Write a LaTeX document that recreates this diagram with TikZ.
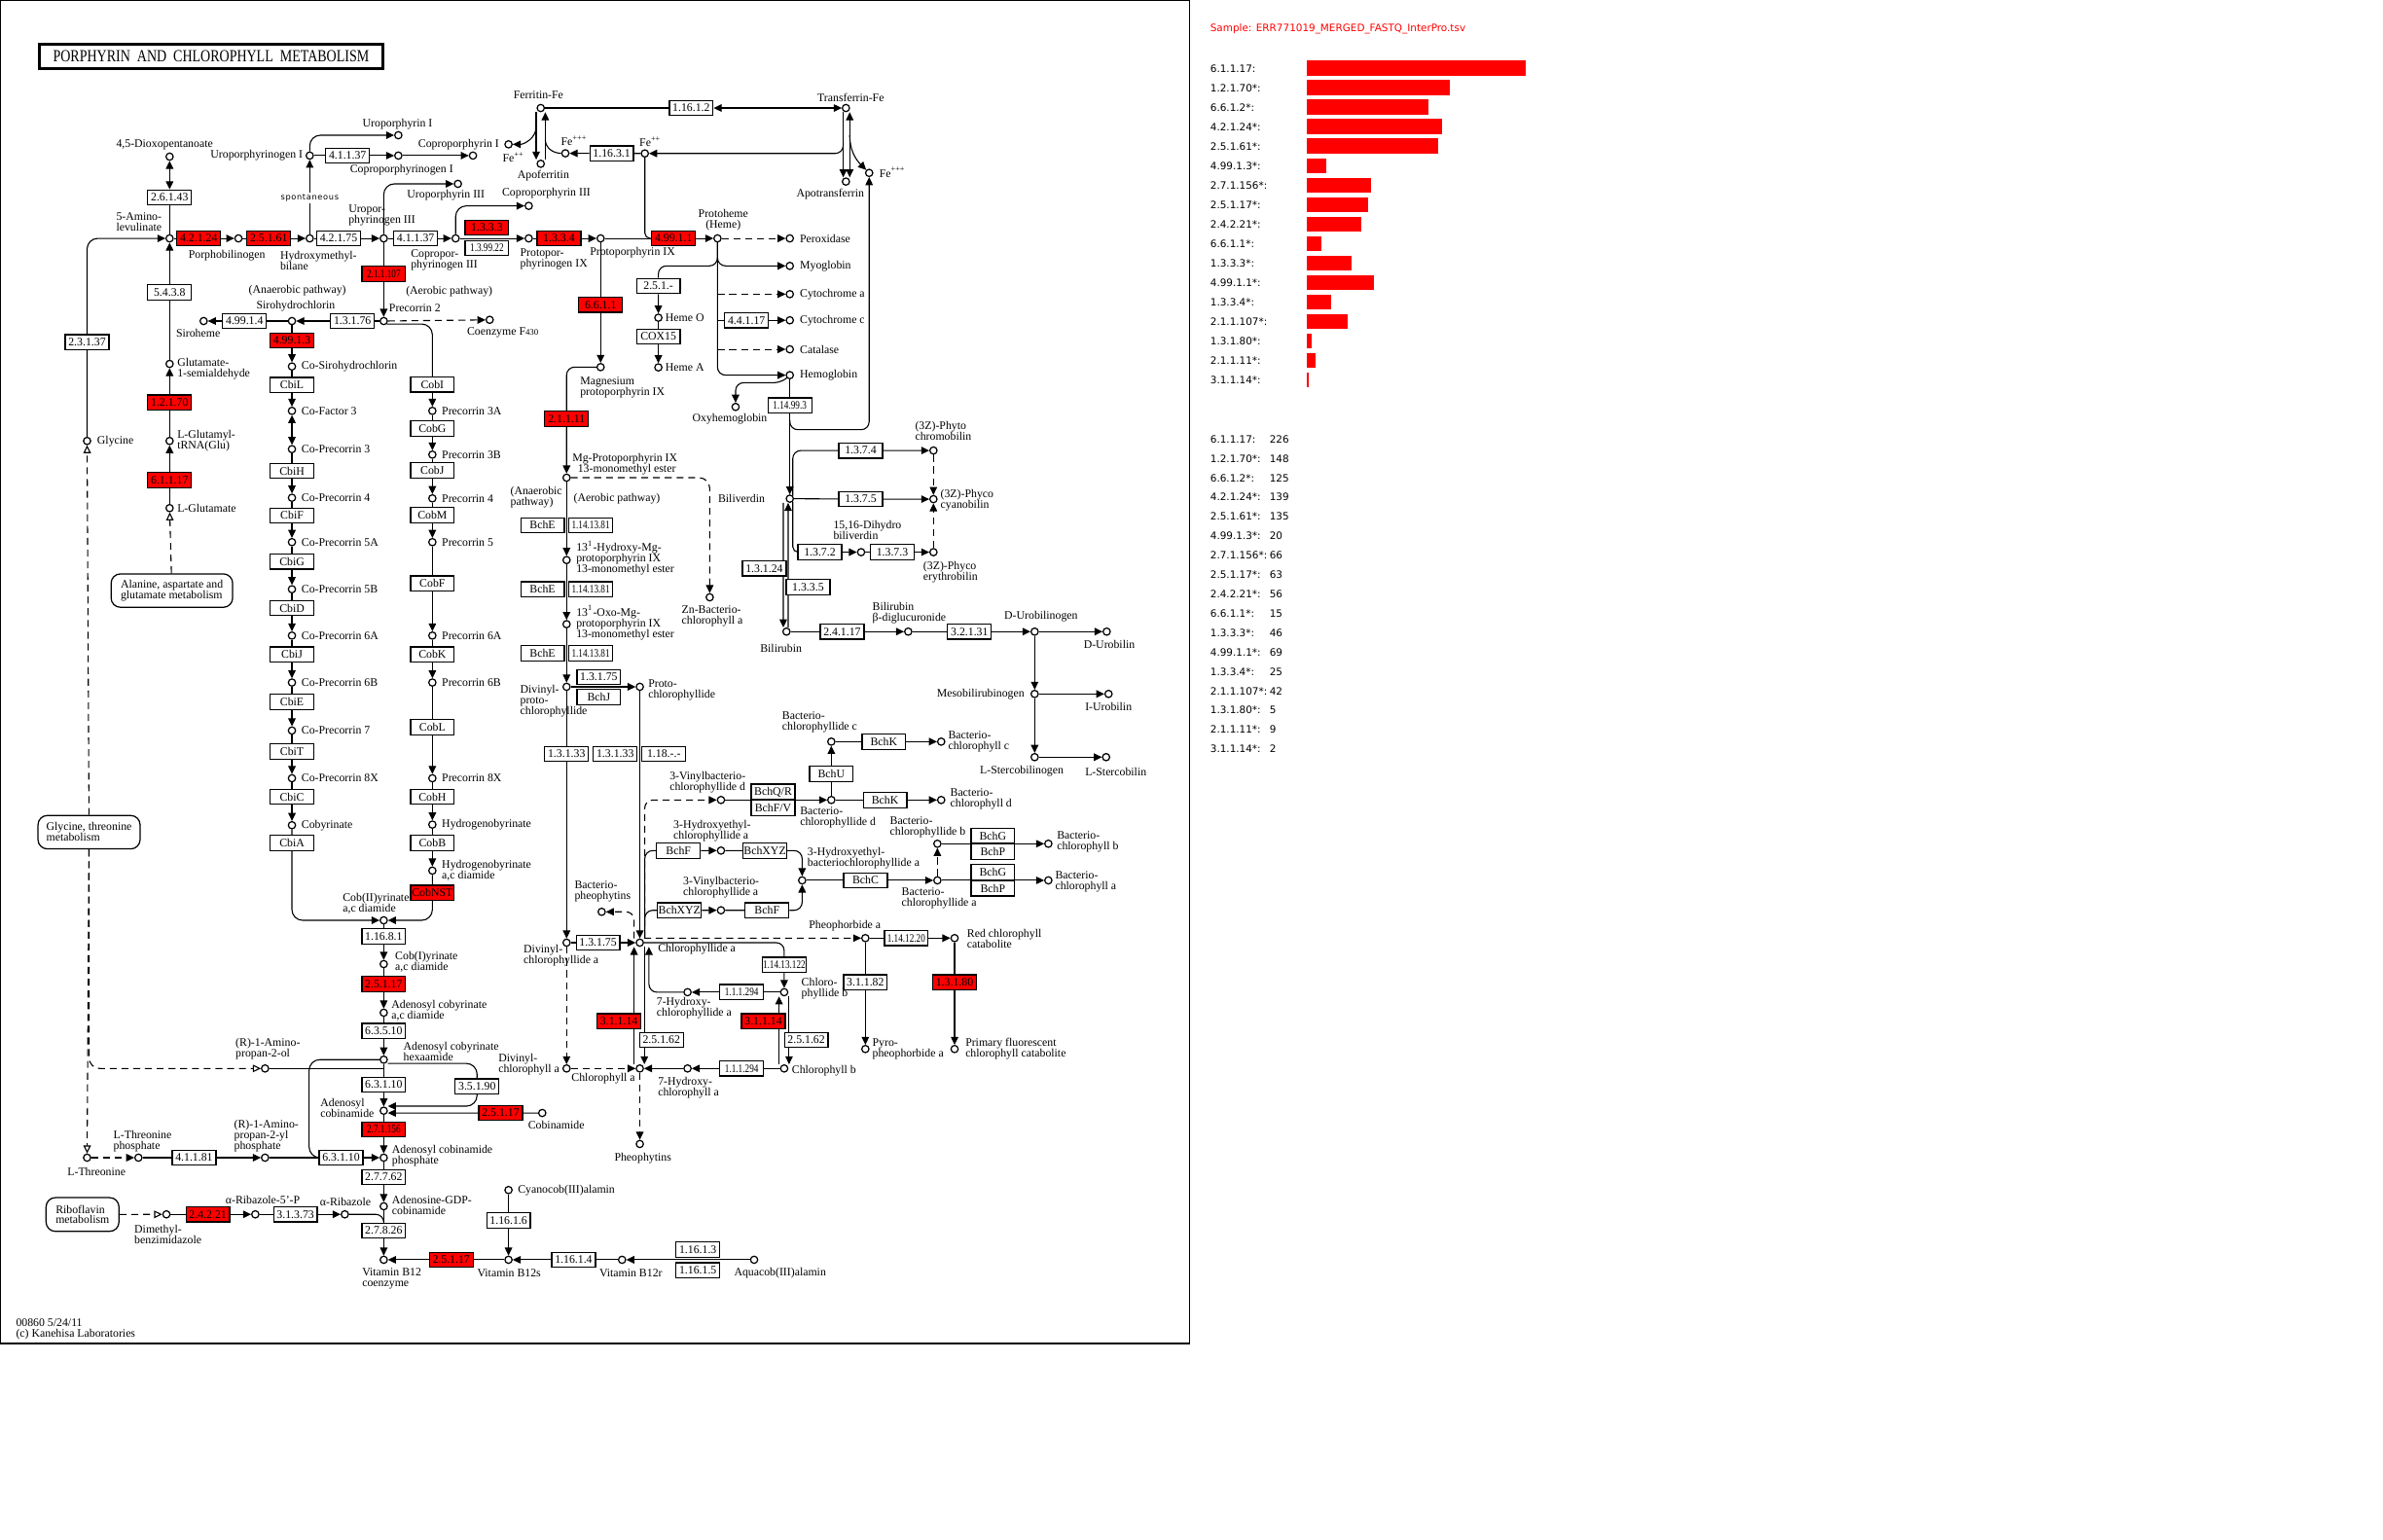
\documentclass[tikz,border=0pt]{standalone}
\usepackage{fontspec}
\setmainfont{Liberation Serif}
\newfontfamily\condfont[FakeStretch=0.78]{Liberation Serif}
\newfontfamily\legfont{DejaVu Sans}
\newfontfamily\spontfont[LetterSpace=8]{DejaVu Sans}
\usepackage{tikz}
\usetikzlibrary{arrows.meta, positioning, backgrounds}

\begin{document}
\begin{tikzpicture}[x=0.02cm, y=-0.02cm, line width=0.45pt,
    font=\fontsize{4.3}{4}\selectfont,
    >={Triangle[length=3pt,width=2.8pt]},
    cpd/.style={draw, circle, fill=white, inner sep=0pt, minimum size=2.7pt},
    enz/.style={draw, fill=white, inner sep=0pt, minimum width=0.575cm, minimum height=0.2cm},
    hit/.style={enz, fill=red},
    cond/.style={font=\condfont\fontsize{4.3}{4}\selectfont},
    lbl/.style={inner sep=0pt, align=left},
    mapbox/.style={draw, rounded corners=3.5pt, inner sep=0pt, align=left},
    link/.style={dash pattern=on 2.6pt off 1.8pt},
    mapin/.style={-{Triangle[open,length=3pt,width=2.8pt]}},
    leg/.style={inner sep=0pt, font=\legfont\fontsize{3.8}{4}\selectfont}]
  \useasboundingbox (0,0) rectangle (1568,1013);

  % title and footer
  \node[draw, line width=0.9pt, minimum width=4.52cm, minimum height=0.32cm, inner sep=0pt,
        font=\fontsize{5.1}{6}\selectfont] (title) at (138.9,37.2)
        {\scalebox{1}[1.25]{PORPHYRIN\ \ AND\ \ CHLOROPHYLL\ \ METABOLISM}};
  \node[lbl, anchor=west] (footer) at (10.2,874.5) {00860 5/24/11\\(c) Kanehisa Laboratories};

  % heme: main row
  \node[cpd] (cDiox) at (111.6,103.1) {};
  \node[lbl] (tDiox) at (108.3,95) {4,5-Dioxopentanoate};
  \node[enz] (ec26143) at (111.6,130) {2.6.1.43};
  \node[cpd] (cALA) at (111.6,156.9) {};
  \node[lbl, anchor=east] (tALA) at (106.7,146.2) {5-Amino-\\levulinate};
  \node[hit] (ec42124) at (130.8,156.9) {4.2.1.24};
  \node[cpd] (cPBG) at (156.9,156.9) {};
  \node[lbl] (tPBG) at (149.3,168.2) {Porphobilinogen};
  \node[hit] (ec25161) at (176.9,156.9) {2.5.1.61};
  \node[cpd] (cHMB) at (203.8,156.9) {};
  \node[lbl, anchor=west] (tHMB) at (184,171.5) {Hydroxymethyl-\\bilane};
  \node[enz] (ec42175) at (222.8,156.9) {4.2.1.75};
  \node[cpd] (cUro3g) at (252.5,156.9) {};
  \node[lbl, anchor=west] (tUro3g) at (229,141.9) {Uropor-\\phyrinogen III};
  \node[enz] (ec41137b) at (273.5,156.9) {4.1.1.37};
  \node[cpd] (cCop3g) at (299.8,156.9) {};
  \node[lbl, anchor=west] (tCop3g) at (270,171) {Copropor-\\phyrinogen III};
  \node[hit] (ec1333) at (320.4,149.8) {1.3.3.3};
  \node[enz, cond] (ec139922) at (320.4,163.3) {1.3.99.22};
  \node[cpd] (cPro9g) at (347.9,156.9) {};
  \node[lbl, anchor=west] (tPro9g) at (341.9,170.5) {Protopor-\\phyrinogen IX};
  \node[hit] (ec1334) at (367.8,156.9) {1.3.3.4};
  \node[cpd] (cPro9) at (395.2,156.9) {};
  \node[lbl] (tPro9) at (416.2,166.5) {Protoporphyrin IX};
  \node[hit] (ec49911) at (443.2,156.9) {4.99.1.1};
  \node[cpd] (cHeme) at (472.1,156.9) {};
  \node[lbl, align=center] (tHeme) at (475.9,145) {Protoheme\\(Heme)};

  % type I isomers
  \node[cpd] (cUro1g) at (203.8,102.4) {};
  \node[lbl, anchor=east] (tUro1g) at (199.6,102.4) {Uroporphyrinogen I};
  \node[fill=white, inner sep=0.6pt, font=\spontfont\fontsize{3}{3.5}\selectfont] (spont) at (203.8,130.2) {spontaneous};
  \node[enz] (ec41137a) at (228.7,102.4) {4.1.1.37};
  \node[cpd] (cCop1g) at (262.1,102.4) {};
  \node[lbl, anchor=west] (tCop1g) at (230,111.8) {Coproporphyrinogen I};
  \node[cpd] (cUro1) at (262.1,89) {};
  \node[lbl, anchor=west] (tUro1) at (238.2,81.5) {Uroporphyrin I};
  \node[cpd] (cCop1) at (311.2,102.4) {};
  \node[lbl] (tCop1) at (301.8,95.4) {Coproporphyrin I};
  \node[cpd] (cUro3) at (301.3,121) {};
  \node[lbl] (tUro3) at (293.4,128.7) {Uroporphyrin III};
  \node[cpd] (cCop3) at (347.9,135.5) {};
  \node[lbl] (tCop3) at (359.5,127.4) {Coproporphyrin III};

  % iron
  \node[cpd] (cFe2a) at (334.6,95) {};
  \node[lbl, anchor=base west] (tFe2a) at (330.4,106.7) {Fe\textsuperscript{++}};
  \node[cpd] (cFerr) at (355.8,71.1) {};
  \node[lbl] (tFerr) at (354.3,62.5) {Ferritin-Fe};
  \node[cpd] (cApoF) at (355.8,107.8) {};
  \node[lbl] (tApoF) at (357.5,115.7) {Apoferritin};
  \node[cpd] (cFe3a) at (372,100.9) {};
  \node[lbl, anchor=base west] (tFe3a) at (368.8,96) {Fe\textsuperscript{+++}};
  \node[enz] (ec11631) at (402.5,101) {1.16.3.1};
  \node[cpd] (cFe2b) at (424.3,101) {};
  \node[lbl, anchor=base west] (tFe2b) at (420.4,96.4) {Fe\textsuperscript{++}};
  \node[enz] (ec11612) at (454.8,71.1) {1.16.1.2};
  \node[cpd] (cTrf) at (556.6,71.1) {};
  \node[lbl] (tTrf) at (559.8,64) {Transferrin-Fe};
  \node[cpd] (cApoT) at (556.6,119.5) {};
  \node[lbl] (tApoT) at (546.3,128) {Apotransferrin};
  \node[cpd] (cFe3b) at (571.9,113.8) {};
  \node[lbl, anchor=base west] (tFe3b) at (578.3,116.7) {Fe\textsuperscript{+++}};

  % heme proteins
  \node[cpd] (cPerox) at (519.7,156.9) {};
  \node[lbl, anchor=west] (tPerox) at (526,156.9) {Peroxidase};
  \node[cpd] (cMyo) at (519.7,175) {};
  \node[lbl, anchor=west] (tMyo) at (526,175) {Myoglobin};
  \node[cpd] (cCytA) at (519.7,193.6) {};
  \node[lbl, anchor=west] (tCytA) at (526,193.6) {Cytochrome a};
  \node[enz] (ec44117) at (491.2,210.8) {4.4.1.17};
  \node[cpd] (cCytC) at (519.7,210.8) {};
  \node[lbl, anchor=west] (tCytC) at (526,210.8) {Cytochrome c};
  \node[cpd] (cCatal) at (519.7,229.9) {};
  \node[lbl, anchor=west] (tCatal) at (526,229.9) {Catalase};
  \node[cpd] (cHemo) at (519.7,246.9) {};
  \node[lbl, anchor=west] (tHemo) at (526,246.9) {Hemoglobin};
  \node[enz] (ec251x) at (433.2,188.2) {2.5.1.-};
  \node[cpd] (cHemeO) at (433.2,209.1) {};
  \node[lbl, anchor=west] (tHemeO) at (437.5,209.1) {Heme O};
  \node[enz] (cox15) at (433.2,221.5) {COX15};
  \node[cpd] (cHemeA) at (433.2,241.8) {};
  \node[lbl, anchor=west] (tHemeA) at (437.5,241.8) {Heme A};
  \node[enz, cond] (ec114993) at (519.7,266.8) {1.14.99.3};
  \node[cpd] (cOxy) at (484,267.8) {};
  \node[lbl] (tOxy) at (480.2,275.7) {Oxyhemoglobin};
  \coordinate (hoFe) at (519.7,276.5);
  \coordinate (hoFeK) at (571.9,282.8);

  % bile pigments
  \node[cpd] (cBv) at (519.7,328.2) {};
  \node[lbl, anchor=east] (tBv) at (503.6,328.2) {Biliverdin};
  \node[enz] (ec1374) at (566.3,296.5) {1.3.7.4};
  \node[cpd] (cPhyt) at (614.2,296.5) {};
  \node[lbl, anchor=west] (tPhyt) at (601.8,283.6) {(3Z)-Phyto\\chromobilin};
  \node[enz] (ec1375) at (566.3,328.5) {1.3.7.5};
  \node[cpd] (cPhyc) at (614.2,328.5) {};
  \node[lbl, anchor=west] (tPhyc) at (618.5,328.9) {(3Z)-Phyco\\cyanobilin};
  \node[enz] (ec1372) at (539.4,363.4) {1.3.7.2};
  \node[cpd] (cDhb) at (566.6,363.4) {};
  \node[lbl, anchor=west] (tDhb) at (548,349.1) {15,16-Dihydro\\biliverdin};
  \node[enz] (ec1373) at (587.1,363.4) {1.3.7.3};
  \node[cpd] (cPhye) at (614.2,363.4) {};
  \node[lbl, anchor=west] (tPhye) at (607.2,376.5) {(3Z)-Phyco\\erythrobilin};
  \node[enz] (ec13124) at (502.9,374.1) {1.3.1.24};
  \node[enz] (ec1335) at (531.7,386.3) {1.3.3.5};
  \node[cpd] (cBr) at (517.5,415.7) {};
  \node[lbl] (tBr) at (513.9,426.4) {Bilirubin};
  \node[enz] (ec24117) at (554.1,415.7) {2.4.1.17};
  \node[cpd] (cBdg) at (597.6,415.7) {};
  \node[lbl, anchor=west] (tBdg) at (573.7,403.6) {Bilirubin\\β-diglucuronide};
  \node[enz] (ec32131) at (637.9,415.7) {3.2.1.31};
  \node[cpd] (cDUg) at (680.8,415.7) {};
  \node[lbl] (tDUg) at (685,405.5) {D-Urobilinogen};
  \node[cpd] (cDU) at (728.2,415.7) {};
  \node[lbl] (tDU) at (729.9,424.3) {D-Urobilin};
  \node[cpd] (cMeso) at (680.8,456.7) {};
  \node[lbl, anchor=east] (tMeso) at (674.4,456.7) {Mesobilirubinogen};
  \node[cpd] (cIU) at (729.4,456.7) {};
  \node[lbl] (tIU) at (729.4,465.3) {I-Urobilin};
  \node[cpd] (cLSg) at (680.8,498.3) {};
  \node[lbl] (tLSg) at (672.3,507.5) {L-Stercobilinogen};
  \node[cpd] (cLS) at (727.8,498.3) {};
  \node[lbl] (tLS) at (734.2,508) {L-Stercobilin};

  % chlorophyll
  \node[hit] (ec6611) at (395.2,200.6) {6.6.1.1};
  \node[cpd] (cMgP) at (395.2,241.6) {};
  \node[lbl, anchor=west] (tMgP) at (381.4,255.3) {Magnesium\\protoporphyrin IX};
  \node[hit] (ec21111) at (372.8,275.7) {2.1.1.11};
  \node[cpd] (cMgPME) at (372.8,314.4) {};
  \node[lbl, anchor=west] (tMgPME) at (376.3,305.7) {Mg-Protoporphyrin IX\\\hspace*{2pt}13-monomethyl ester};
  \node[lbl, anchor=west] (tAnaer) at (335.5,327) {(Anaerobic\\pathway)};
  \node[lbl] (tAer) at (405.9,328.2) {(Aerobic pathway)};
  \foreach \y [count=\k] in {345.7,387.8,430} {
    \node[enz] (bchE\k) at (357,\y) {BchE};
    \node[enz, cond] (ec1141381\k) at (388.7,\y) {1.14.13.81};
  }
  \node[cpd] (cHMg) at (372.8,368.6) {};
  \node[lbl, anchor=west] (tHMg) at (378.8,367.3) {13\textsuperscript{1}-Hydroxy-Mg-\\protoporphyrin IX\\13-monomethyl ester};
  \node[cpd] (cOMg) at (372.8,410.8) {};
  \node[lbl, anchor=west] (tOMg) at (378.8,409.7) {13\textsuperscript{1}-Oxo-Mg-\\protoporphyrin IX\\13-monomethyl ester};
  \node[cpd] (cDVP) at (372.8,452) {};
  \node[lbl, anchor=west] (tDVP) at (341.9,461.6) {Divinyl-\\proto-\\chlorophyllide};
  \node[enz] (ec13175a) at (394,445.6) {1.3.1.75};
  \node[enz] (bchJ) at (394,458.8) {BchJ};
  \node[cpd] (cPchl) at (421,452) {};
  \node[lbl, anchor=west] (tPchl) at (426.2,454.5) {Proto-\\chlorophyllide};
  \node[enz] (ec13133a) at (372.8,496.2) {1.3.1.33};
  \node[enz] (ec13133b) at (404.8,496.2) {1.3.1.33};
  \node[enz] (ec118x) at (436.8,496.2) {1.18.-.-};
  \node[cpd] (cZn) at (467,393.1) {};
  \node[lbl, anchor=west] (tZn) at (448.2,405.8) {Zn-Bacterio-\\chlorophyll a};
  \node[cpd] (cDVCa) at (372.8,620.4) {};
  \node[lbl, anchor=west] (tDVCa) at (344.2,629) {Divinyl-\\chlorophyllide a};
  \node[enz] (ec13175b) at (393.5,620.4) {1.3.1.75};
  \node[cpd] (cChlda) at (421,620.4) {};
  \node[lbl, anchor=west] (tChlda) at (432.6,624.9) {Chlorophyllide a};
  \node[cpd] (cBph) at (395.9,600.1) {};
  \node[lbl, anchor=west] (tBph) at (377.7,586.6) {Bacterio-\\pheophytins};

  % bacteriochlorophylls
  \node[cpd] (cVBd) at (474.4,526.5) {};
  \node[lbl, anchor=west] (tVBd) at (440.3,514.6) {3-Vinylbacterio-\\chlorophyllide d};
  \node[enz] (bchQR) at (508.7,521.1) {BchQ/R};
  \node[enz] (bchFV) at (508.7,531.8) {BchF/V};
  \node[cpd] (cBd) at (547,526.5) {};
  \node[lbl, anchor=west] (tBd) at (526.1,538.2) {Bacterio-\\chlorophyllide d};
  \node[enz] (bchU) at (547,509.4) {BchU};
  \node[cpd] (cBc) at (547,488.1) {};
  \node[lbl, anchor=west] (tBc) at (514.3,475) {Bacterio-\\chlorophyllide c};
  \node[enz] (bchKc) at (581.6,488.1) {BchK};
  \node[cpd] (cBchlc) at (619.3,488.1) {};
  \node[lbl, anchor=west] (tBchlc) at (623.6,488.2) {Bacterio-\\chlorophyll c};
  \node[enz] (bchKd) at (582.4,526.5) {BchK};
  \node[cpd] (cBchld) at (619.3,526.5) {};
  \node[lbl, anchor=west] (tBchld) at (624.9,526) {Bacterio-\\chlorophyll d};
  \node[cpd] (cHEa) at (474.4,559.8) {};
  \node[lbl, anchor=west] (tHEa) at (442.8,546.6) {3-Hydroxyethyl-\\chlorophyllide a};
  \node[enz] (bchFu) at (446.4,559.8) {BchF};
  \node[enz] (bchXu) at (503.3,559.8) {BchXYZ};
  \node[cpd] (cHEBa) at (527.8,579.4) {};
  \node[lbl, anchor=west] (tHEBa) at (531,565) {3-Hydroxyethyl-\\bacteriochlorophyllide a};
  \node[cpd] (cVBa) at (474.4,599.1) {};
  \node[lbl, anchor=west] (tVBa) at (449.2,584.3) {3-Vinylbacterio-\\chlorophyllide a};
  \node[enz] (bchXl) at (447.1,599.1) {BchXYZ};
  \node[enz] (bchFl) at (504.7,599.1) {BchF};
  \node[enz] (bchC) at (569.5,579.4) {BchC};
  \node[cpd] (cBa) at (616.8,579.4) {};
  \node[lbl, anchor=west] (tBa) at (592.9,591.5) {Bacterio-\\chlorophyllide a};
  \node[cpd] (cBb) at (616.8,555.3) {};
  \node[lbl, anchor=west] (tBb) at (585.2,544.7) {Bacterio-\\chlorophyllide b};
  \node[enz] (bchGb) at (653.3,550) {BchG};
  \node[enz] (bchPb) at (653.3,560.6) {BchP};
  \node[enz] (bchGa) at (653.3,574.1) {BchG};
  \node[enz] (bchPa) at (653.3,584.7) {BchP};
  \node[cpd] (cBchlb) at (689.8,555.3) {};
  \node[lbl, anchor=west] (tBchlb) at (695.1,553.8) {Bacterio-\\chlorophyll b};
  \node[cpd] (cBchla) at (689.8,579.4) {};
  \node[lbl, anchor=west] (tBchla) at (694,580.3) {Bacterio-\\chlorophyll a};

  % chlorophyll cycle and breakdown
  \node[cpd] (cPhb) at (569.4,617.4) {};
  \node[lbl] (tPhb) at (555.9,609.3) {Pheophorbide a};
  \node[enz, cond] (ec1141220) at (596.3,617.4) {1.14.12.20};
  \node[cpd] (cRCC) at (628.1,617.4) {};
  \node[lbl, anchor=west] (tRCC) at (636,617.9) {Red chlorophyll\\catabolite};
  \node[enz] (ec31182) at (569.4,646.6) {3.1.1.82};
  \node[cpd] (cPyro) at (569.4,690.4) {};
  \node[lbl, anchor=west] (tPyro) at (573.7,690.2) {Pyro-\\pheophorbide a};
  \node[hit] (ec13180) at (628.1,646.6) {1.3.1.80};
  \node[cpd] (cPFCC) at (628.1,690.4) {};
  \node[lbl, anchor=west] (tPFCC) at (634.9,690.2) {Primary fluorescent\\chlorophyll catabolite};
  \node[enz, cond] (ec11413122) at (516,635) {1.14.13.122};
  \node[cpd] (cChldb) at (516,653) {};
  \node[lbl, anchor=west] (tChldb) at (527,650.8) {Chloro-\\phyllide b};
  \node[enz, cond] (ec111294a) at (488,653) {1.1.1.294};
  \node[cpd] (c7Hda) at (452.4,653) {};
  \node[lbl, anchor=west] (t7Hda) at (431.7,663.7) {7-Hydroxy-\\chlorophyllide a};
  \node[hit] (ec31114a) at (407.3,672.2) {3.1.1.14};
  \node[enz] (ec25162a) at (435.2,684.4) {2.5.1.62};
  \node[hit] (ec31114b) at (502.3,672.2) {3.1.1.14};
  \node[enz] (ec25162b) at (530.5,684.4) {2.5.1.62};
  \node[cpd] (cDVa) at (372.8,703.2) {};
  \node[lbl, anchor=west] (tDVa) at (327.6,700.5) {Divinyl-\\chlorophyll a};
  \node[cpd] (cChla) at (421,703.2) {};
  \node[lbl] (tChla) at (397,710) {Chlorophyll a};
  \node[cpd] (c7Ha) at (452.4,703.2) {};
  \node[lbl, anchor=west] (t7Ha) at (432.6,715.8) {7-Hydroxy-\\chlorophyll a};
  \node[enz, cond] (ec111294b) at (488,703.2) {1.1.1.294};
  \node[cpd] (cChlb) at (516,703.2) {};
  \node[lbl, anchor=west] (tChlb) at (520.7,705) {Chlorophyll b};
  \node[cpd] (cPhy) at (421,752.9) {};
  \node[lbl] (tPhy) at (423,762.3) {Pheophytins};

  % glutamate / glycine entry
  \node[enz] (ec23137) at (57.3,225.2) {2.3.1.37};
  \node[cpd] (cGly) at (57.3,290.2) {};
  \node[lbl, anchor=west] (tGly) at (63.6,290.2) {Glycine};
  \node[enz] (ec5438) at (111.6,192.5) {5.4.3.8};
  \node[cpd] (cGSA) at (111.6,239.5) {};
  \node[lbl, anchor=west] (tGSA) at (116.3,243) {Glutamate-\\1-semialdehyde};
  \node[hit] (ec12170) at (111.6,265) {1.2.1.70};
  \node[cpd] (cGtR) at (111.6,290.2) {};
  \node[lbl, anchor=west] (tGtR) at (116.3,290.3) {L-Glutamyl-\\tRNA(Glu)};
  \node[hit] (ec61117) at (111.6,315.9) {6.1.1.17};
  \node[cpd] (cGlu) at (111.6,334.4) {};
  \node[lbl, anchor=west] (tGlu) at (116.3,334.4) {L-Glutamate};
  \node[mapbox, minimum width=1.6cm, minimum height=0.44cm] (mAla) at (113.1,388.7) {Alanine, aspartate and\\glutamate metabolism};
  \node[mapbox, minimum width=1.344cm, minimum height=0.44cm] (mGly) at (58.6,547.7) {Glycine, threonine\\metabolism};
  \node[mapbox, minimum width=0.96cm, minimum height=0.444cm] (mRibo) at (54.3,799.3) {Riboflavin\\metabolism};

  % siroheme and cobalt branch
  \node[cpd] (cPre2) at (252.5,211.3) {};
  \node[lbl, anchor=west] (tPre2) at (255.7,202.7) {Precorrin 2};
  \node[hit, cond] (ec211107) at (252.5,180.3) {2.1.1.107};
  \node[lbl] (tAerob) at (295.6,192.1) {(Aerobic pathway)};
  \node[cpd] (cF430) at (322.2,210.5) {};
  \node[lbl] (tF430) at (330.8,218.8) {Coenzyme F{\fontsize{3.2}{3}\selectfont 430}};
  \node[enz] (ec13176) at (231.9,211.3) {1.3.1.76};
  \node[cpd] (cSiroh) at (192.1,211.3) {};
  \node[lbl] (tSiroh) at (194.6,201.7) {Sirohydrochlorin};
  \node[lbl] (tAnaerob) at (195.7,191.4) {(Anaerobic pathway)};
  \node[enz] (ec49914) at (160.9,211.3) {4.99.1.4};
  \node[cpd] (cSiro) at (134,211.3) {};
  \node[lbl] (tSiro) at (130.4,219.4) {Siroheme};
  \node[hit] (ec49913) at (192.1,224.1) {4.99.1.3};
  \node[cpd] (cCoSiro) at (192.1,241.2) {};
  \node[lbl, right=1.8pt of cCoSiro] (tCoSiro) {Co-Sirohydrochlorin};
  \node[enz] (cbiL) at (192.1,253.4) {CbiL};
  \node[cpd] (cCoF3) at (192.1,270.4) {};
  \node[lbl, right=1.8pt of cCoF3] (tCoF3) {Co-Factor 3};
  \node[cpd] (cCoP3) at (192.1,295.6) {};
  \node[lbl, right=1.8pt of cCoP3] (tCoP3) {Co-Precorrin 3};
  \foreach \bx/\by/\cy/\nm [count=\k] in {CbiH/309.9/327.6/Co-Precorrin 4, CbiF/339.3/356.8/Co-Precorrin 5A,
      CbiG/369.6/387.8/Co-Precorrin 5B, CbiD/400.2/418.3/Co-Precorrin 6A, CbiJ/430.7/449.2/Co-Precorrin 6B,
      CbiE/462/480.8/Co-Precorrin 7, CbiT/494.5/512.2/Co-Precorrin 8X, CbiC/524.4/543.1/Cobyrinate} {
    \node[enz] (cbi\k) at (192.1,\by) {\bx};
    \node[cpd] (cbiC\k) at (192.1,\cy) {};
    \node[lbl, right=1.8pt of cbiC\k] (cbiT\k) {\nm};
  }
  \node[enz] (cbiA) at (192.1,554.9) {CbiA};
  \foreach \bx/\by/\cy/\nm [count=\k] in {CobI/253.1/270.4/Precorrin 3A, CobG/282.1/299.2/Precorrin 3B,
      CobJ/309.5/328/Precorrin 4, CobM/338.9/356.8/Precorrin 5, CobF/384.1/418.3/Precorrin 6A,
      CobK/430.7/449.2/Precorrin 6B, CobL/478.6/512.2/Precorrin 8X, CobH/524.4/542.7/Hydrogenobyrinate,
      CobB/554.9/573/{Hydrogenobyrinate\\a,c diamide}} {
    \node[enz] (cob\k) at (284.5,\by) {\bx};
    \node[cpd] (cobC\k) at (284.5,\cy) {};
    \node[lbl, right=1.8pt of cobC\k] (cobT\k) {\nm};
  }
  \node[hit] (cobNST) at (284.5,587.6) {CobNST};

  % cobalamin main column
  \node[cpd] (cCob2) at (252.5,605.7) {};
  \node[lbl, anchor=west] (tCob2) at (225.2,594.9) {Cob(II)yrinate\\a,c diamide};
  \node[enz] (ec11681) at (252.5,616.3) {1.16.8.1};
  \node[cpd] (cCob1) at (252.5,634.5) {};
  \node[lbl, anchor=west] (tCob1) at (259.7,632.8) {Cob(I)yrinate\\a,c diamide};
  \node[hit] (ec25117a) at (252.5,647.7) {2.5.1.17};
  \node[cpd] (cAdoCy) at (252.5,666.5) {};
  \node[lbl, anchor=west] (tAdoCy) at (257.2,664.8) {Adenosyl cobyrinate\\a,c diamide};
  \node[enz] (ec63510) at (252.5,678.6) {6.3.5.10};
  \node[cpd] (cHexa) at (252.5,697.4) {};
  \node[lbl, anchor=west] (tHexa) at (265.1,691.8) {Adenosyl cobyrinate\\hexaamide};
  \node[enz] (ec63110a) at (252.5,713.9) {6.3.1.10};
  \node[cpd] (cAdoCbi) at (252.5,731) {};
  \node[lbl, anchor=east] (tAdoCbi) at (246.5,729.1) {Adenosyl\\cobinamide};
  \node[hit, cond] (ec271156) at (252.5,743.3) {2.7.1.156};
  \node[cpd] (cAdoCbiP) at (252.5,761.9) {};
  \node[lbl, anchor=west] (tAdoCbiP) at (257.6,760.8) {Adenosyl cobinamide\\phosphate};
  \node[enz] (ec27762) at (252.5,774.7) {2.7.7.62};
  \node[cpd] (cAdoGDP) at (252.5,793.9) {};
  \node[lbl, anchor=west] (tAdoGDP) at (257.6,793) {Adenosine-GDP-\\cobinamide};
  \node[enz] (ec27826) at (252.5,809.9) {2.7.8.26};
  \node[cpd] (cB12co) at (252.5,829.1) {};
  \node[lbl, anchor=west] (tB12co) at (238,841.4) {Vitamin B12\\coenzyme};
  \node[enz] (ec35190) at (313.9,715) {3.5.1.90};
  \node[hit] (ec25117b) at (329.4,732.5) {2.5.1.17};
  \node[cpd] (cCbi) at (356.8,732.5) {};
  \node[lbl] (tCbi) at (366,740.5) {Cobinamide};
  \node[cpd] (cAmP) at (174.4,703.2) {};
  \node[lbl, anchor=west] (tAmP) at (154.7,690.6) {(R)-1-Amino-\\propan-2-ol};
  \coordinate (loopX) at (203.4,730);
  \node[cpd] (cThr) at (57.3,761.9) {};
  \node[lbl] (tThr) at (63.5,771.1) {L-Threonine};
  \node[cpd] (cThrP) at (91.1,761.9) {};
  \node[lbl, anchor=west] (tThrP) at (74.3,750.9) {L-Threonine\\phosphate};
  \node[enz] (ec41181) at (127.7,761.9) {4.1.1.81};
  \node[cpd] (cAmPP) at (174.4,761.9) {};
  \node[lbl, anchor=west] (tAmPP) at (153.7,747.5) {(R)-1-Amino-\\propan-2-yl\\phosphate};
  \node[enz] (ec63110b) at (224.4,761.9) {6.3.1.10};
  \node[cpd] (cDMB) at (109.5,799.2) {};
  \node[lbl, anchor=west] (tDMB) at (88.1,812.4) {Dimethyl-\\benzimidazole};
  \node[hit] (ec24221) at (136.8,799.2) {2.4.2.21};
  \node[cpd] (cRibP) at (168,799.2) {};
  \node[lbl] (tRibP) at (172.9,789.6) {α-Ribazole-5'-P};
  \node[enz] (ec31373) at (194.4,799.2) {3.1.3.73};
  \node[cpd] (cRib) at (226.9,799.2) {};
  \node[lbl] (tRib) at (227.3,790.7) {α-Ribazole};
  \node[cpd] (cCyano) at (334.6,783.2) {};
  \node[lbl, anchor=west] (tCyano) at (340.4,783.2) {Cyanocob(III)alamin};
  \node[enz] (ec11616) at (334.6,803.3) {1.16.1.6};
  \node[cpd] (cB12s) at (334.6,829.1) {};
  \node[lbl] (tB12s) at (335,837.6) {Vitamin B12s};
  \node[hit] (ec25117c) at (296.9,829.1) {2.5.1.17};
  \node[enz] (ec11614) at (377.4,829.1) {1.16.1.4};
  \node[cpd] (cB12r) at (409.3,829.1) {};
  \node[lbl] (tB12r) at (415.1,838.1) {Vitamin B12r};
  \node[enz] (ec11613) at (459.2,822.5) {1.16.1.3};
  \node[enz] (ec11615) at (459.2,836) {1.16.1.5};
  \node[cpd] (cAqua) at (496.2,829.1) {};
  \node[lbl, anchor=west] (tAqua) at (482.7,837.6) {Aquacob(III)alamin};

  % sample legend
  \node[leg, text=red, anchor=west] (legTitle) at (796,19) {Sample: ERR771019\_MERGED\_FASTQ\_InterPro.tsv};
  \foreach \nm/\v [count=\i] in {6.1.1.17:/226, 1.2.1.70*:/148, 6.6.1.2*:/125, 4.2.1.24*:/139, 2.5.1.61*:/135,
      4.99.1.3*:/20, 2.7.1.156*:/66, 2.5.1.17*:/63, 2.4.2.21*:/56, 6.6.1.1*:/15, 1.3.3.3*:/46, 4.99.1.1*:/69,
      1.3.3.4*:/25, 2.1.1.107*:/42, 1.3.1.80*:/5, 2.1.1.11*:/9, 3.1.1.14*:/2} {
    \node[leg, anchor=west] (legA\i) at (796,{45+12.81*(\i-1)}) {\nm};
    \fill[red] (860,{40+12.81*(\i-1)}) rectangle ++({0.637*\v},10);
    \node[leg, anchor=west] (legB\i) at (796,{289+12.75*(\i-1)}) {\nm};
    \node[leg, anchor=west] (legC\i) at (835,{289+12.75*(\i-1)}) {\v};
  }

  \begin{scope}[on background layer]
    \fill[white] (0,0) rectangle (1568,1013);
    \draw (0.4,0.4) rectangle (782.6,884.2);
    % porphyrin core
    \draw[<->] (cALA) -- (ec26143) -- (cDiox);
    \draw[->] (cGSA) -- (ec5438) -- (cALA);
    \draw[->] (cGtR) -- (ec12170) -- (cGSA);
    \draw[->] (cGlu) -- (ec61117) -- (cGtR);
    \draw[mapin, link] (mAla) -- (cGlu);
    \draw[->, rounded corners=4pt] (cGly) -- (ec23137) |- (cALA);
    \draw[mapin, link] (mGly) -- (cGly);
    \draw[mapin, link] (mGly) -- (cThr);
    \draw[mapin, link, rounded corners=4pt] (mGly) |- (cAmP);
    \draw[mapin, link] (mRibo) -- (cDMB);
    \draw[->] (cALA) -- (ec42124) -- (cPBG);
    \draw[->] (cPBG) -- (ec25161) -- (cHMB);
    \draw[->] (cHMB) -- (ec42175) -- (cUro3g);
    \draw[->] (cHMB) -- (cUro1g);
    \draw[->] (cUro1g) -- (ec41137a) -- (cCop1g);
    \draw[->, rounded corners=4pt] (cUro1g) |- (cUro1);
    \draw[->] (cCop1g) -- (cCop1);
    \draw[->, rounded corners=4pt] (cUro3g) |- (cUro3);
    \draw[->] (cUro3g) -- (ec41137b) -- (cCop3g);
    \draw[->, rounded corners=4pt] (cCop3g) |- (cCop3);
    \draw[->] (cCop3g) -- (cPro9g);
    \draw[->] (cPro9g) -- (ec1334) -- (cPro9);
    \draw[->] (cPro9) -- (ec49911) -- (cHeme);
    \draw[->] (cUro3g) -- (ec211107) -- (cPre2);
    % iron
    \draw[<->] (cFerr) -- (ec11612) -- (cTrf);
    \draw[->] ([xshift=-0.06cm]cFerr.south) -- ([xshift=-0.06cm]cApoF.north);
    \draw[->] ([xshift=0.06cm]cApoF.north) -- ([xshift=0.06cm]cFerr.south);
    \draw[->] ([xshift=-0.06cm,yshift=-0.19cm]cFerr.south) to[out=-90,in=0] (cFe2a);
    \draw ([xshift=0.06cm,yshift=-0.36cm]cFerr.south) to[out=-90,in=180] (cFe3a);
    \draw[->] (cFe2b) -- (ec11631) -- (cFe3a);
    \draw[rounded corners=2pt] (cFe2b) |- (ec49911);
    \draw[->] ([xshift=-0.035cm]cTrf.south) -- ([xshift=-0.035cm]cApoT.north);
    \draw[<->] ([xshift=0.05cm]cApoT.north) -- ([xshift=0.05cm]cTrf.south);
    \draw[->, rounded corners=3pt] ([xshift=-0.035cm,yshift=-0.38cm]cTrf.south) |- (cFe2b);
    \draw[->] ([xshift=0.05cm,yshift=-0.3cm]cTrf.south) to[out=-90,in=135] (cFe3b);
    \draw[->, rounded corners=3pt] (hoFe) |- (hoFeK) -- (cFe3b);
    % heme proteins
    \draw[->, link] (cHeme) -- (cPerox);
    \draw[->, rounded corners=3pt] (cHeme) |- (cMyo);
    \draw[->, link] (cHeme |- cCytA) -- (cCytA);
    \draw[->] (cHeme |- cCytC) -- (ec44117) -- (cCytC);
    \draw[->, link] (cHeme |- cCatal) -- (cCatal);
    \draw[->, rounded corners=3pt] (cHeme) |- (cHemo);
    \draw[->, rounded corners=3pt] (cHeme) |- (ec251x |- cMyo) -- (ec251x) -- (cHemeO);
    \draw[->] (cHemeO) -- (cox15) -- (cHemeA);
    \draw[->, rounded corners=3pt] (cHemo.south west) -- ++(-3,3) -| (cOxy);
    \draw[->] (cHemo) -- (ec114993) -- (cBv);
    % bile pigments
    \draw[->, rounded corners=3pt] (cBv.north east) |- (ec1374) -- (cPhyt);
    \draw[->] (cBv) -- (ec1375) -- (cPhyc);
    \draw[->, rounded corners=2pt] (cBv.south east) |- (ec1372) -- (cDhb);
    \draw[->] (cDhb) -- (ec1373) -- (cPhye);
    \draw[->, link] (cPhyt) -- (cPhyc);
    \draw[->, link] (cPhye) -- (cPhyc);
    \draw[->] ([xshift=-0.086cm]cBv.south) -- ([xshift=-0.042cm]cBr.north);
    \draw[->] ([xshift=0.022cm]cBr.north) -- ([xshift=-0.022cm]cBv.south);
    \draw[->] (cBr) -- (ec24117) -- (cBdg);
    \draw[->] (cBdg) -- (ec32131) -- (cDUg);
    \draw[->] (cDUg) -- (cDU);
    \draw[->] (cDUg) -- (cMeso);
    \draw[->] (cMeso) -- (cIU);
    \draw[->] (cMeso) -- (cLSg);
    \draw[->] (cLSg) -- (cLS);
    % chlorophyll
    \draw[->] (cPro9) -- (ec6611) -- (cMgP);
    \draw[->, rounded corners=3pt] (cMgP) -| (ec21111) -- (cMgPME);
    \draw[->, link, rounded corners=4pt] (cMgPME) -| (cZn);
    \draw[->] (cMgPME) -- (cHMg);
    \draw[->] (cHMg) -- (cOMg);
    \draw[->] (cOMg) -- (cDVP);
    \draw[->] (cDVP) -- (cPchl);
    \draw[->] (cDVP) -- (ec13133a) -- (cDVCa);
    \draw[->] (cPchl) -- (cChlda);
    \draw[->] (cDVCa) -- (ec13175b) -- (cChlda);
    \draw[->, link, rounded corners=3pt] ([xshift=-0.076cm]cChlda.north) |- (cBph);
    \draw[->, link, rounded corners=3pt] ([xshift=0.065cm]cChlda.north) |- (cVBd);
    \draw[->, rounded corners=3pt] ([xshift=0.065cm]cChlda.north) |- (bchFu) -- (cHEa);
    \draw[->, rounded corners=3pt] ([xshift=0.065cm]cChlda.north) |- (bchXl) -- (cVBa);
    \draw[->, rounded corners=3pt] (cHEa) -- (bchXu) -| (cHEBa);
    \draw[->, rounded corners=3pt] (cVBa) -- (bchFl) -| (cHEBa);
    \draw[->] (cVBd) -- (cBd);
    \draw[->] (cBd) -- (bchU) -- (cBc);
    \draw[->] (cBc) -- (bchKc) -- (cBchlc);
    \draw[->] (cBd) -- (bchKd) -- (cBchld);
    \draw[->] (cHEBa) -- (bchC) -- (cBa);
    \draw[->, link] (cBa) -- (cBb);
    \draw[->] (cBb) -- (cBchlb);
    \draw[->] (cBa) -- (cBchla);
    \draw[->, link] ([yshift=0.06cm]cChlda.east) -- (cPhb);
    \draw[->] (cPhb) -- (ec1141220) -- (cRCC);
    \draw[->] (cPhb) -- (ec31182) -- (cPyro);
    \draw[->] (cRCC) -- (ec13180) -- (cPFCC);
    \draw[->, rounded corners=3pt] (cChlda) -| (ec11413122) -- (cChldb);
    \draw[->] (cChldb) -- (ec111294a) -- (c7Hda);
    \draw[->, rounded corners=3pt] (c7Hda) -| ([xshift=0.12cm]cChlda.south);
    \draw[->] ([xshift=-0.076cm]cChla.north) -- ([xshift=-0.076cm]cChlda.south);
    \draw[->] ([xshift=0.06cm]cChlda.south) -- ([xshift=0.06cm]cChla.north);
    \draw[->] ([xshift=-0.068cm]cChlb.north) -- ([xshift=-0.068cm]cChldb.south);
    \draw[->] ([xshift=0.064cm]cChldb.south) -- ([xshift=0.064cm]cChlb.north);
    \draw[->, link] (cDVCa) -- (cDVa);
    \draw[->, link] (cDVa) -- (cChla);
    \draw[->] (cChlb) -- (ec111294b) -- (c7Ha);
    \draw[->] (c7Ha) -- (cChla);
    \draw[->, link] (cChla) -- (cPhy);
    % siroheme and corrin ring
    \draw[->] (cPre2) -- (ec13176) -- (cSiroh);
    \draw[->] (cSiroh) -- (ec49914) -- (cSiro);
    \draw[->] (cSiroh) -- (ec49913) -- (cCoSiro);
    \draw[->] (cCoSiro) -- (cbiL) -- (cCoF3);
    \draw[<->] (cCoF3) -- (cCoP3);
    \draw[->] (cCoP3) -- (cbi1) -- (cbiC1);
    \foreach \k [remember=\k as \j (initially 1)] in {2,...,8} {
      \draw[->] (cbiC\j) -- (cbi\k) -- (cbiC\k);
    }
    \draw[->, rounded corners=4pt] (cbiC8) -- (cbiA) |- (cCob2);
    \draw[->, link] (cPre2) -- (cF430);
    \draw[rounded corners=4pt] (cPre2.south east) -| (cob1);
    \draw[->] (cob1) -- (cobC1);
    \foreach \k [remember=\k as \j (initially 1)] in {2,...,9} {
      \draw[->] (cobC\j) -- (cob\k) -- (cobC\k);
    }
    \draw[->, rounded corners=4pt] (cobC9) -- (cobNST) |- (cCob2);
    % cobalamin assembly
    \draw[->] (cCob2) -- (ec11681) -- (cCob1);
    \draw[->] (cCob1) -- (ec25117a) -- (cAdoCy);
    \draw[->] (cAdoCy) -- (ec63510) -- (cHexa);
    \draw[->] (cHexa) -- (ec63110a) -- (cAdoCbi);
    \draw[->] (cAdoCbi) -- (ec271156) -- (cAdoCbiP);
    \draw[->] (cAdoCbiP) -- (ec27762) -- (cAdoGDP);
    \draw[->] (cAdoGDP) -- (ec27826) -- (cB12co);
    \draw[->] (cCbi) -- (ec25117b) -- ([yshift=-0.03cm]cAdoCbi.east);
    \draw[->, rounded corners=4pt] ([yshift=-0.05cm]cHexa.east) -| (ec35190) |- ([yshift=0.06cm]cAdoCbi.east);
    \draw (cAmP) -- (cAmP -| ec63110a);
    \draw[rounded corners=4pt] (cHexa) -| (loopX) |- (ec63110b);
    \draw[->, link] (cThr) -- (cThrP);
    \draw[->] (cThrP) -- (ec41181) -- (cAmPP);
    \draw[->] (cAmPP) -- (ec63110b) -- (cAdoCbiP);
    \draw[->] (cDMB) -- (ec24221) -- (cRibP);
    \draw[->] (cRibP) -- (ec31373) -- (cRib);
    \draw[rounded corners=3pt] (cRib) -| (ec27826);
    \draw[->] (cCyano) -- (ec11616) -- (cB12s);
    \draw[->] (cB12s) -- (ec25117c) -- (cB12co);
    \draw[->] (cB12r) -- (ec11614) -- (cB12s);
    \draw[->] (cAqua) -- (cB12r);
  \end{scope}
\end{tikzpicture}
\end{document}
